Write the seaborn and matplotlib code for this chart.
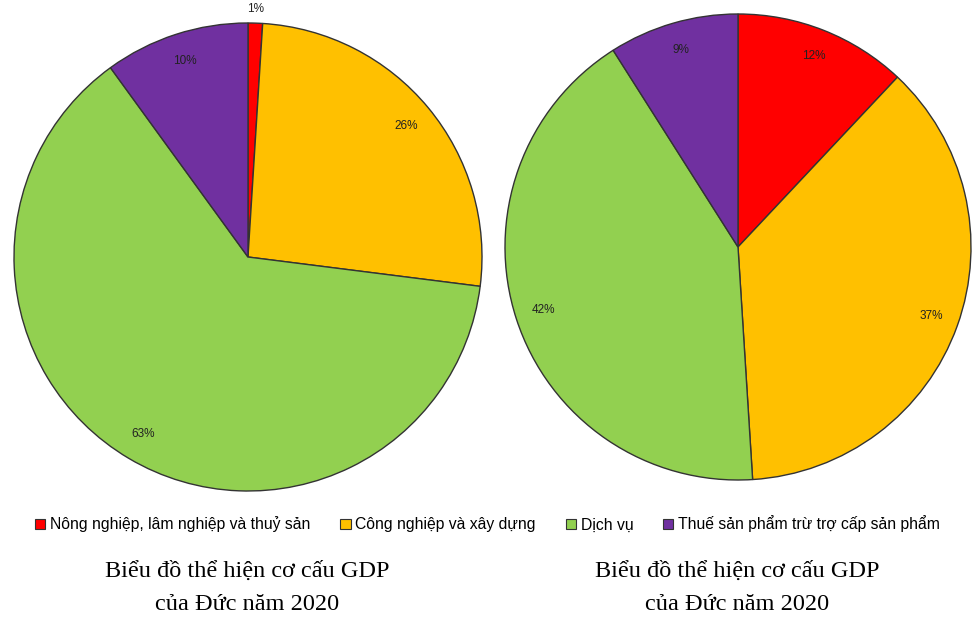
import seaborn as sns
import matplotlib.pyplot as plt
from matplotlib.patches import Patch

# Data
categories = ['Nông nghiệp, lâm nghiệp và thuỷ sản', 'Công nghiệp và xây dựng',
              'Dịch vụ', 'Thuế sản phẩm trừ trợ cấp sản phẩm']
left_values = [1, 26, 63, 10]
right_values = [12, 37, 42, 9]
title_text = 'Biểu đồ thể hiện cơ cấu GDP\ncủa Đức năm 2020'

sns.set_theme(style='white')
plt.rcParams['font.family'] = ['Liberation Sans', 'DejaVu Sans']
plt.rcParams['text.color'] = 'black'
colors = sns.color_palette(['#FF0000', '#FFC000', '#92D050', '#7030A0'])

fig = plt.figure(figsize=(9.75, 6.22), dpi=100)
W, H = 975, 622


def pixel_axes(x0, y0, x1, y1):
    return fig.add_axes([x0 / W, 1 - y1 / H, (x1 - x0) / W, (y1 - y0) / H])


def draw_pie(ax, values):
    wedges, texts, autotexts = ax.pie(
        values, colors=colors, startangle=90, counterclock=False,
        autopct='%.0f%%', pctdistance=0.88,
        wedgeprops=dict(edgecolor='#333333', linewidth=1.0),
        textprops=dict(fontsize=8.5, color='#222222'))
    for w, t, v in zip(wedges, autotexts, values):
        if v < 3:
            x, y = t.get_position()
            t.set_position((x / 0.88 * 1.06, y / 0.88 * 1.06))
    ax.set_xlim(-1, 1)
    ax.set_ylim(-1, 1)
    ax.set_aspect('equal')
    ax.axis('off')
    return wedges


ax_left = pixel_axes(14, 23, 482, 491)
ax_right = pixel_axes(505, 14, 971, 480)
draw_pie(ax_left, left_values)
draw_pie(ax_right, right_values)

handles = [Patch(facecolor=c, edgecolor='#333333', linewidth=0.8) for c in colors]
fig.legend(handles, categories, loc='center', bbox_to_anchor=(0.5, 1 - 524 / H),
           ncol=4, frameon=False, fontsize=11.3, handlelength=0.65, handleheight=0.65,
           handletextpad=0.3, columnspacing=1.9)

for cx in (247, 737):
    fig.text(cx / W, 1 - 588 / H, title_text, ha='center', va='center',
             fontsize=17.5, family='Liberation Serif', linespacing=1.75, color='black')

plt.savefig('out.png', dpi=100)
